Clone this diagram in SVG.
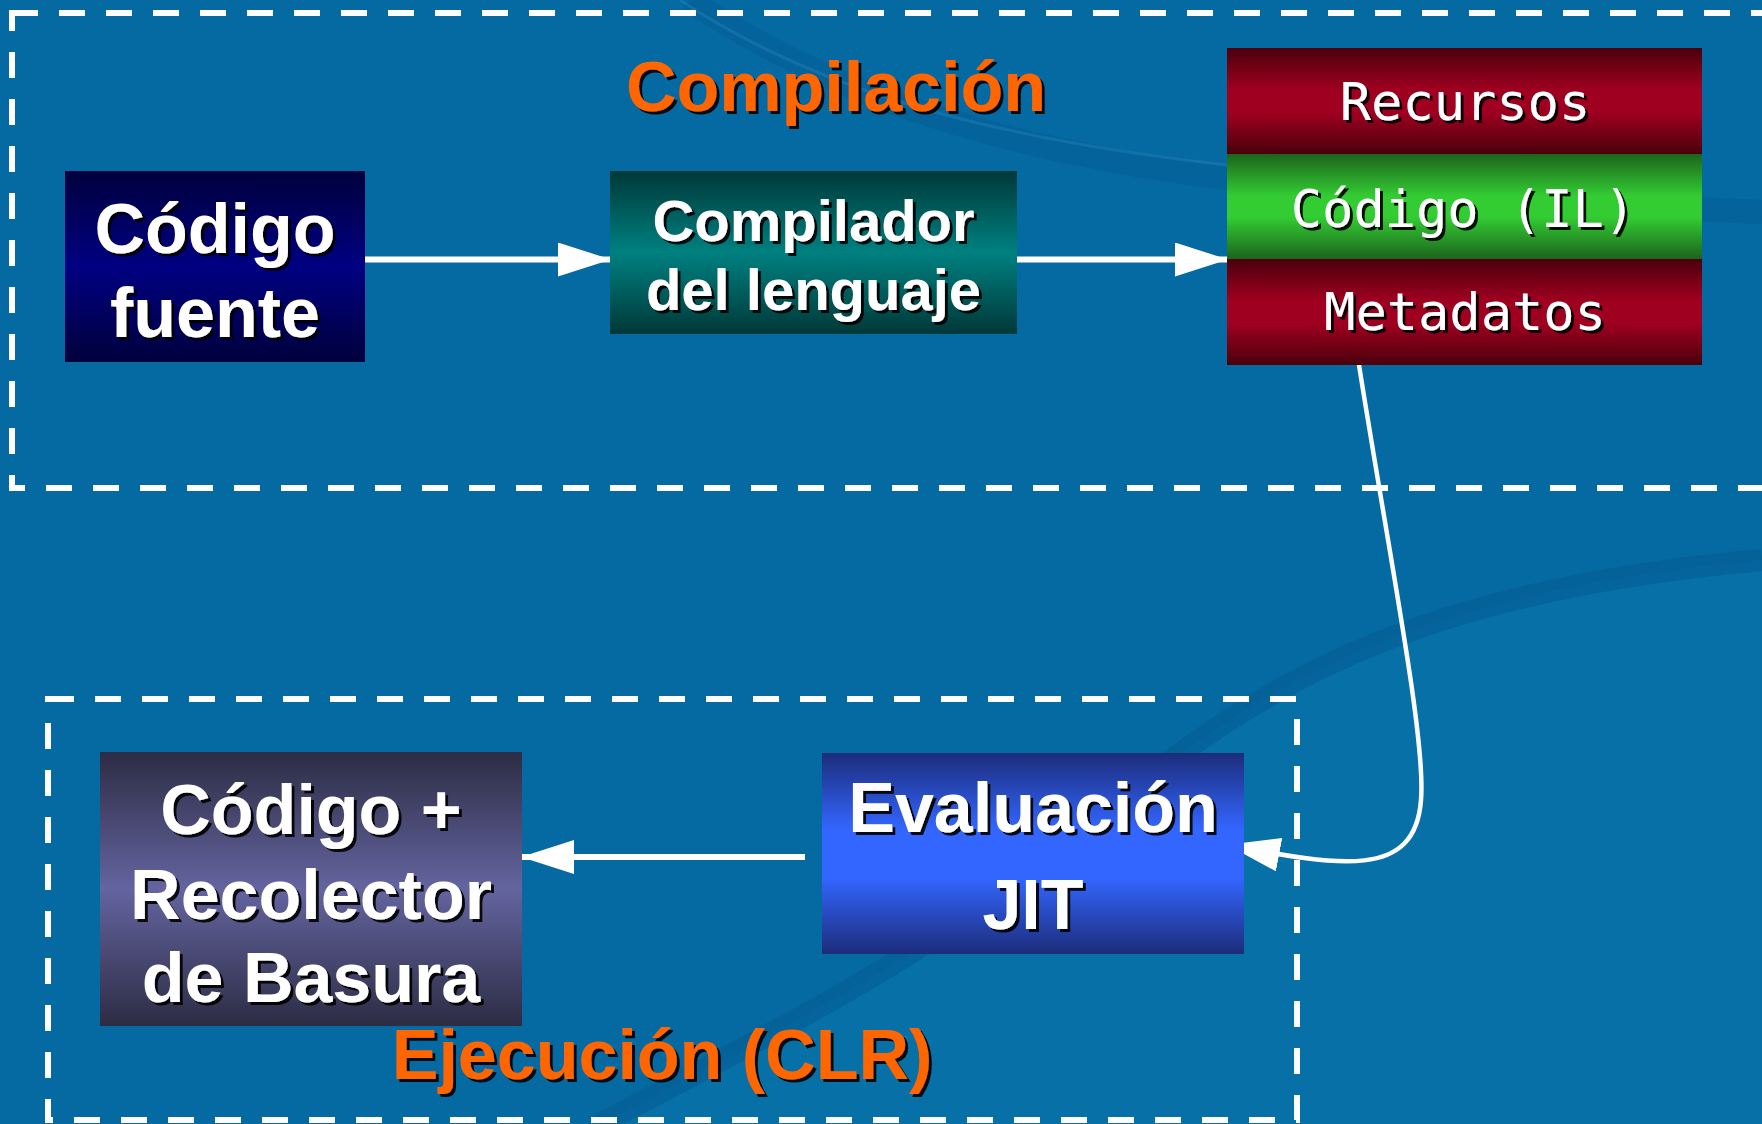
<svg xmlns="http://www.w3.org/2000/svg" width="1762" height="1124" viewBox="0 0 1762 1124">
<style>
.t{font-family:"Liberation Sans",Arial,sans-serif;font-weight:bold;font-size:70px;fill:#fff;text-anchor:middle;filter:url(#sh)}
.m{font-family:"DejaVu Sans Mono","Liberation Mono",monospace;font-size:52px;fill:#fff;text-anchor:middle;filter:url(#sh)}
.ttl{font-family:"Liberation Sans",Arial,sans-serif;font-weight:bold;font-size:70px;fill:#ff6600;text-anchor:middle;filter:url(#sh)}
.frame{fill:none;stroke:#fff;stroke-width:6;stroke-dasharray:26 21}
.conn{fill:none;stroke:#fff;stroke-width:6}
</style>
<defs>
<filter id="sh" x="-5%" y="-10%" width="115%" height="130%">
<feOffset in="SourceAlpha" dx="3" dy="3" result="o"/>
<feFlood flood-color="#000" flood-opacity="0.9"/>
<feComposite in2="o" operator="in" result="s"/>
<feMerge><feMergeNode in="s"/><feMergeNode in="SourceGraphic"/></feMerge>
</filter>
<marker id="ah" markerUnits="userSpaceOnUse" markerWidth="54" markerHeight="34" refX="52" refY="17" orient="auto">
<path d="M0,0 L53,17 L0,34 z" fill="#fff"/>
</marker>
<linearGradient id="gNavy" x1="0" y1="0" x2="0" y2="1"><stop offset="0" stop-color="#00003c"/><stop offset="0.5" stop-color="#000082"/><stop offset="1" stop-color="#00003c"/></linearGradient>
<linearGradient id="gTeal" x1="0" y1="0" x2="0" y2="1"><stop offset="0" stop-color="#003838"/><stop offset="0.5" stop-color="#008080"/><stop offset="1" stop-color="#003838"/></linearGradient>
<linearGradient id="gRed" x1="0" y1="0" x2="0" y2="1"><stop offset="0" stop-color="#4a000c"/><stop offset="0.4" stop-color="#a00020"/><stop offset="0.6" stop-color="#a00020"/><stop offset="1" stop-color="#4a000c"/></linearGradient>
<linearGradient id="gGreen" x1="0" y1="0" x2="0" y2="1"><stop offset="0" stop-color="#1c641c"/><stop offset="0.4" stop-color="#33cc33"/><stop offset="0.6" stop-color="#33cc33"/><stop offset="1" stop-color="#1c641c"/></linearGradient>
<linearGradient id="gSlate" x1="0" y1="0" x2="0" y2="1"><stop offset="0" stop-color="#2c2c44"/><stop offset="0.5" stop-color="#6464a0"/><stop offset="1" stop-color="#2c2c44"/></linearGradient>
<linearGradient id="gBlue" x1="0" y1="0" x2="0" y2="1"><stop offset="0" stop-color="#1c2c7a"/><stop offset="0.38" stop-color="#3366ff"/><stop offset="0.62" stop-color="#3366ff"/><stop offset="1" stop-color="#1c2c7a"/></linearGradient>
</defs>

<g id="background">
<rect x="0" y="0" width="1762" height="1124" fill="#0569a2"/>
<path d="M600,1124 C760,1040 880,980 1020,880 C1200,740 1320,600 1762,560 L1762,1124 Z" fill="#0670a7"/>
<path d="M600,1124 C760,1040 880,980 1020,880 C1200,740 1320,600 1762,560" fill="none" stroke="#045f96" stroke-width="22" opacity="0.7"/>
<path d="M690,0 C820,90 1000,150 1227,178 C1450,200 1600,205 1762,212" fill="none" stroke="#045f96" stroke-width="24" opacity="0.6"/>
<path d="M680,0 C800,80 960,135 1227,165" fill="none" stroke="#2a84b8" stroke-width="3" opacity="0.4"/>
</g>

<g id="frame-compilacion">
<rect class="frame" x="12" y="13" width="1790" height="475"/>
<text class="ttl" x="836" y="111">Compilación</text>
</g>
<g id="frame-ejecucion">
<rect class="frame" x="48" y="699" width="1249" height="421"/>
<text class="ttl" x="662" y="1079">Ejecución (CLR)</text>
</g>

<g id="connectors">
<path class="conn" d="M365,259.5 L610,259.5" marker-end="url(#ah)"/>
<path class="conn" d="M1017,259.5 L1227,259.5" marker-end="url(#ah)"/>
<path class="conn" d="M805,857 L522,857" marker-end="url(#ah)"/>
<path class="conn" style="stroke-width:4.5" d="M1359,365 C1390,560 1426,740 1421,800 C1415,880 1340,866 1228,845" marker-end="url(#ah)"/>
</g>

<g id="codigo-fuente">
<rect x="65" y="171" width="300" height="191" fill="url(#gNavy)"/>
<text class="t" x="215" y="253">Código</text>
<text class="t" x="215" y="337">fuente</text>
</g>

<g id="compilador">
<rect x="610" y="171" width="407" height="163" fill="url(#gTeal)"/>
<text class="t" style="font-size:58px" x="813.5" y="241">Compilador</text>
<text class="t" style="font-size:58px" x="813.5" y="310">del lenguaje</text>
</g>

<g id="ensamblado">
<rect x="1227" y="48" width="475" height="106" fill="url(#gRed)"/>
<rect x="1227" y="154" width="475" height="105" fill="url(#gGreen)"/>
<rect x="1227" y="259" width="475" height="106" fill="url(#gRed)"/>
<text class="m" x="1465" y="120">Recursos</text>
<text class="m" x="1463" y="227">Código (IL)</text>
<text class="m" x="1465" y="330">Metadatos</text>
</g>

<g id="evaluacion-jit">
<rect x="822" y="753" width="422" height="201" fill="url(#gBlue)"/>
<text class="t" x="1033" y="832">Evaluación</text>
<text class="t" x="1033" y="929">JIT</text>
</g>

<g id="codigo-recolector">
<rect x="100" y="752" width="422" height="274" fill="url(#gSlate)"/>
<text class="t" x="311" y="834">Código +</text>
<text class="t" x="311" y="919">Recolector</text>
<text class="t" x="311" y="1002">de Basura</text>
</g>
</svg>
